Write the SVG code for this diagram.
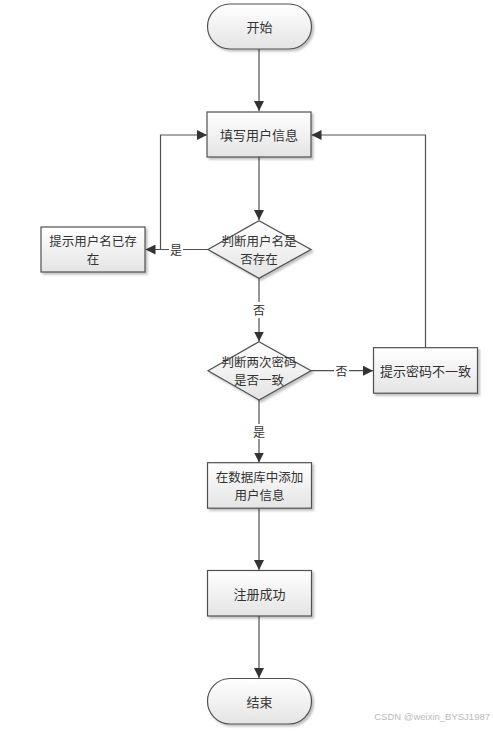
<svg xmlns="http://www.w3.org/2000/svg" width="493" height="732" viewBox="0 0 493 732">
<defs>
<linearGradient id="g" x1="0" y1="0" x2="0" y2="1">
<stop offset="0" stop-color="#ffffff"/>
<stop offset="1" stop-color="#e4e4e4"/>
</linearGradient>
<marker id="ah" viewBox="0 0 10 10" refX="10" refY="5" markerWidth="10" markerHeight="10" markerUnits="userSpaceOnUse" orient="auto">
<path d="M0,0 L10,5 L0,10 z" fill="#333"/>
</marker>
<filter id="sh" x="-10%" y="-10%" width="130%" height="130%">
<feDropShadow dx="2" dy="2" stdDeviation="0.8" flood-color="#000" flood-opacity="0.25"/>
</filter>
</defs>
<style>
.n{fill:url(#g);stroke:#505050;stroke-width:1.2;filter:url(#sh)}
.t{font-family:"Noto Sans CJK SC",sans-serif;font-size:13px;fill:#333;text-anchor:middle;dominant-baseline:central}
.t2{font-family:"Noto Sans CJK SC",sans-serif;font-size:12.5px;fill:#333;text-anchor:middle;dominant-baseline:central}
.l{font-family:"Noto Sans CJK SC",sans-serif;font-size:12px;fill:#333;text-anchor:middle;dominant-baseline:central}
.c{fill:none;stroke:#505050;stroke-width:1.2}
.a{marker-end:url(#ah)}
</style>
<g id="connectors">
<path class="c a" d="M259,49 V111"/>
<path class="c a" d="M259,157 V220"/>
<path class="c a" d="M208,249.5 H145.5"/>
<path class="c a" d="M160.5,249.5 V135 H207"/>
<path class="c a" d="M259,278 V341.5"/>
<path class="c a" d="M311,370.7 H373"/>
<path class="c a" d="M425.5,347.7 V135 H311.5"/>
<path class="c a" d="M259,400 V462.5"/>
<path class="c a" d="M259,508.3 V570"/>
<path class="c a" d="M259,616 V678"/>
<rect x="169" y="242" width="14" height="15" fill="#fff"/>
<text class="l" x="176" y="249">是</text>
<rect x="252" y="302" width="14" height="16" fill="#fff"/>
<text class="l" x="259" y="309.5">否</text>
<rect x="334" y="363" width="15" height="15" fill="#fff"/>
<text class="l" x="341.5" y="370.5">否</text>
<rect x="252" y="424" width="14" height="15" fill="#fff"/>
<text class="l" x="259" y="431">是</text>
</g>
<g id="start">
<rect class="n" x="207.5" y="4" width="104" height="45" rx="22.5" ry="22.5"/>
<text class="t" x="259.5" y="26.5">开始</text>
</g>
<g id="fill-info">
<rect class="n" x="207" y="112" width="104" height="45"/>
<text class="t" x="259" y="134.5">填写用户信息</text>
</g>
<g id="check-user">
<polygon class="n" points="259,220.7 311,249.5 259,278.3 208,249.5"/>
<text class="t2" x="259" y="240">判断用户名是</text>
<text class="t2" x="259" y="258.3">否存在</text>
</g>
<g id="user-exists">
<rect class="n" x="41" y="227" width="104" height="45"/>
<text class="t2" x="93" y="240">提示用户名已存</text>
<text class="t2" x="93" y="258.3">在</text>
</g>
<g id="check-pwd">
<polygon class="n" points="259,341.7 311,370.7 259,400 208,370.7"/>
<text class="t2" x="259" y="361.5">判断两次密码</text>
<text class="t2" x="259" y="379.8">是否一致</text>
</g>
<g id="pwd-mismatch">
<rect class="n" x="373.5" y="347.7" width="104" height="45.5"/>
<text class="t" x="425.5" y="370">提示密码不一致</text>
</g>
<g id="add-db">
<rect class="n" x="207.5" y="462.7" width="104" height="45.5"/>
<text class="t2" x="259.5" y="476">在数据库中添加</text>
<text class="t2" x="259.5" y="494.3">用户信息</text>
</g>
<g id="success">
<rect class="n" x="207.5" y="570.5" width="104" height="45.5"/>
<text class="t" x="259.5" y="593">注册成功</text>
</g>
<g id="end">
<rect class="n" x="207.5" y="678.5" width="104" height="45.5" rx="22.7" ry="22.7"/>
<text class="t" x="259.5" y="701">结束</text>
</g>
<text x="490" y="720" font-family="Liberation Sans, sans-serif" font-size="9.5" fill="#bbb" text-anchor="end">CSDN @weixin_BYSJ1987</text>
</svg>
